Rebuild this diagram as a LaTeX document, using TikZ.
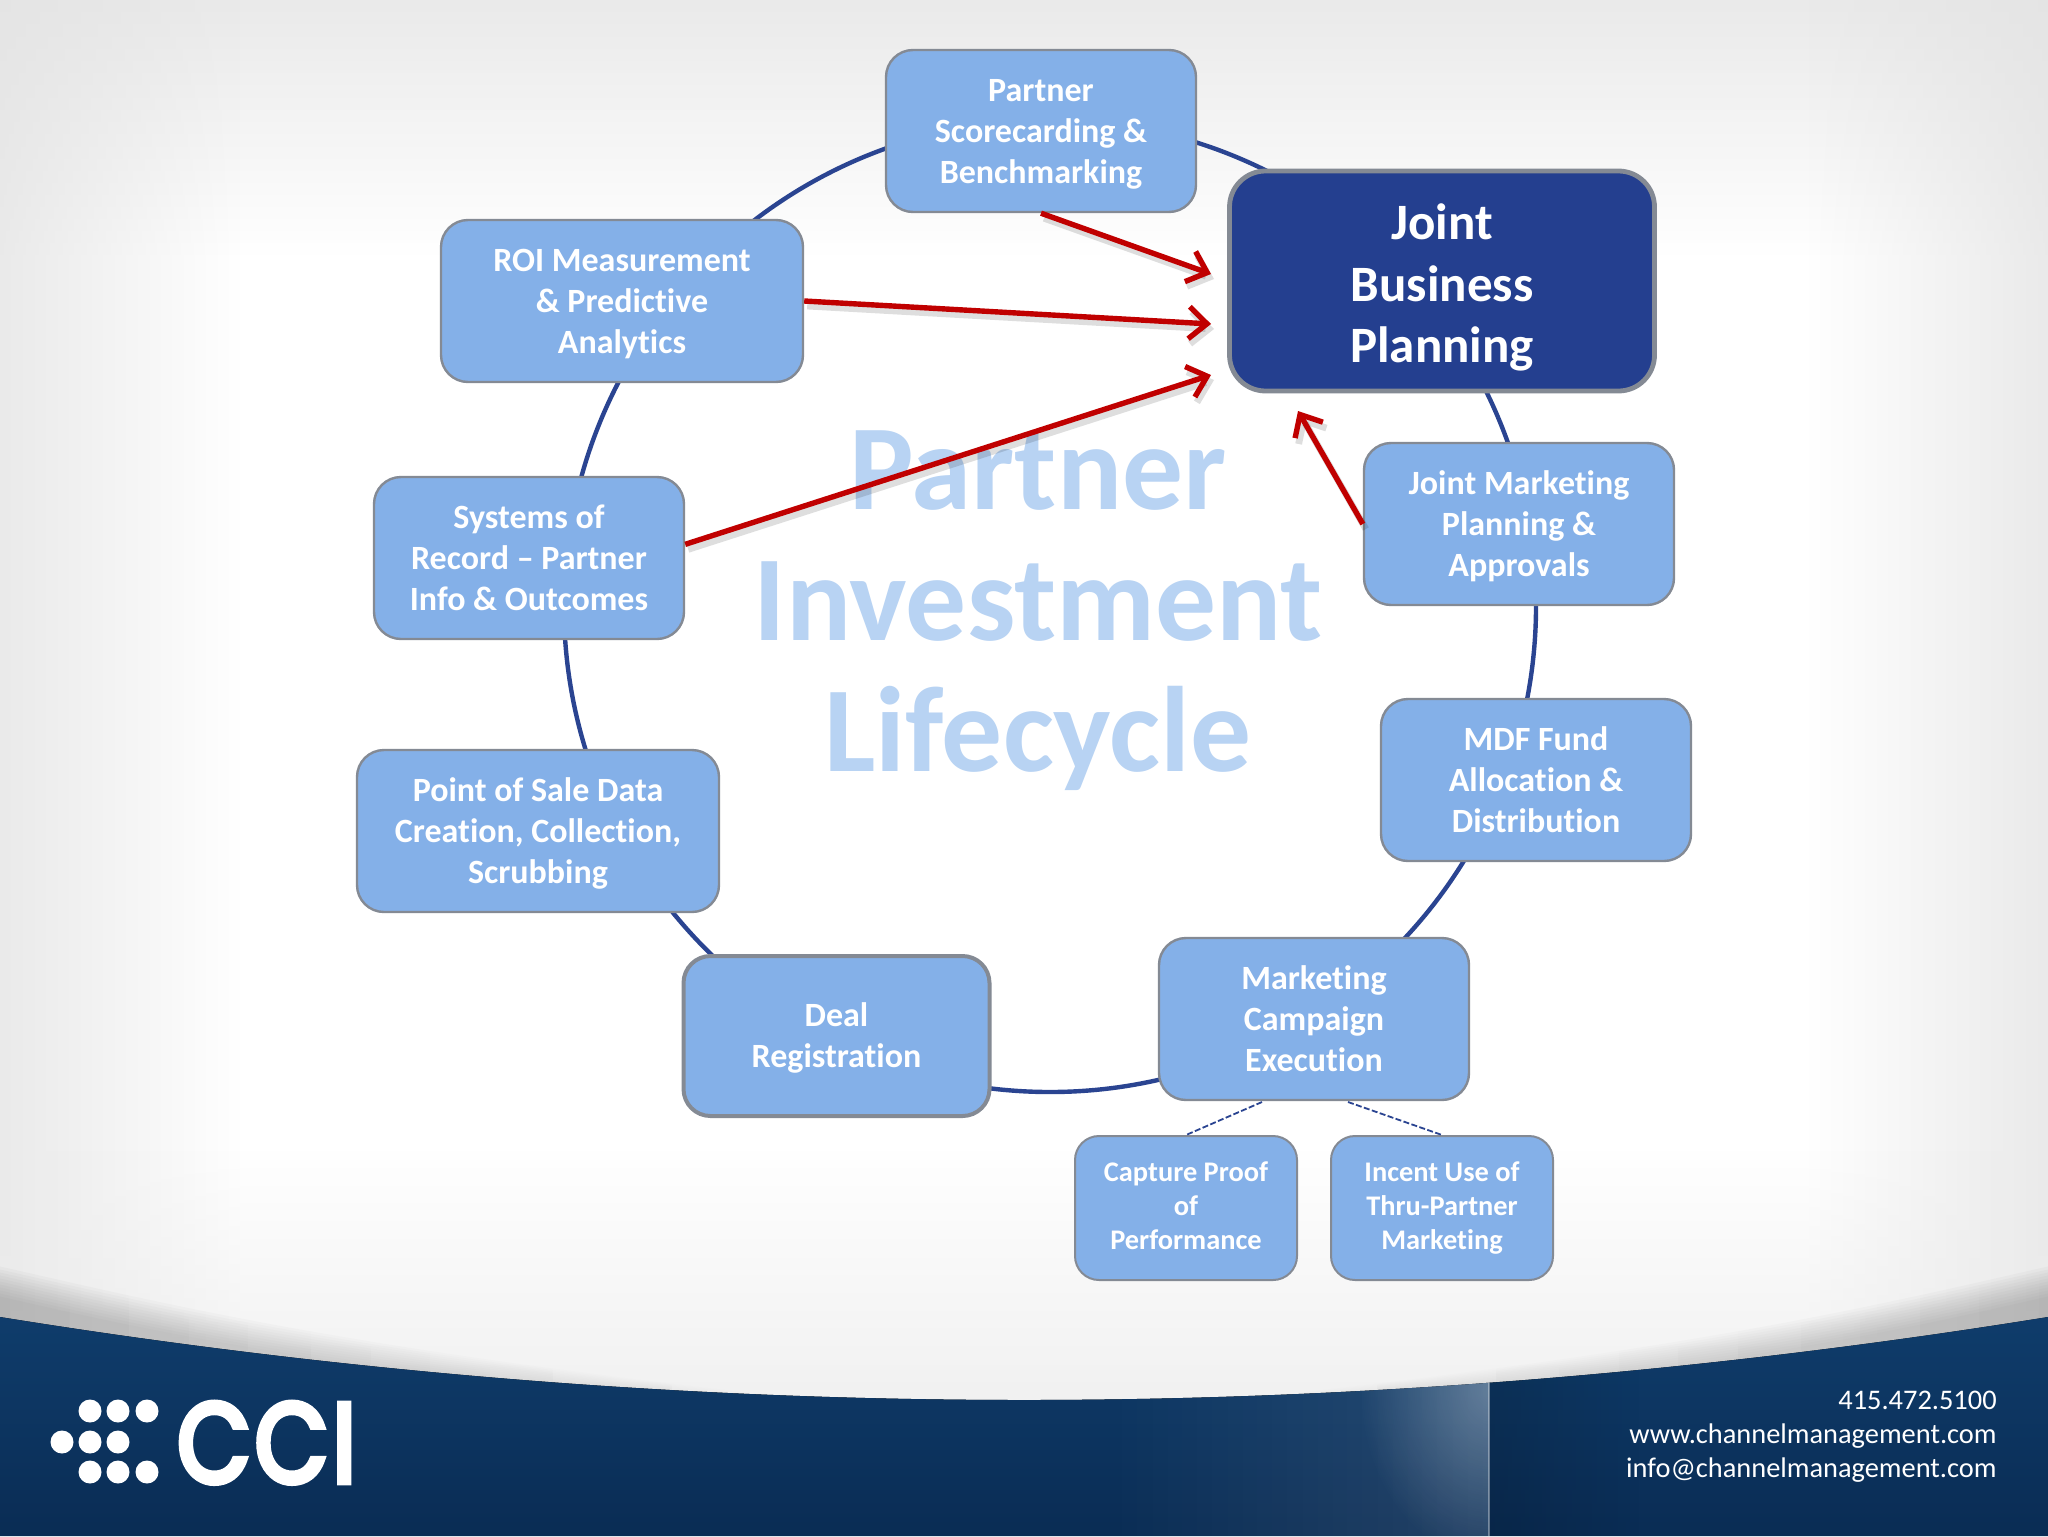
\documentclass[tikz,border=0pt]{standalone}
\usepackage{fontspec}
\usepackage{graphicx}
\setmainfont{Carlito}[Ligatures=CommonOff]
\newfontfamily\logofont{Poppins}[FakeBold=6,LetterSpace=5]
\usetikzlibrary{arrows.meta,fadings,calc}
\definecolor{boxfill}{HTML}{84B0E8}
\definecolor{boxline}{HTML}{848A94}
\definecolor{darkfill}{HTML}{243F8F}
\definecolor{ringblue}{HTML}{2A4491}
\definecolor{arrowred}{HTML}{C00000}
\definecolor{ghost}{HTML}{B8D3F3}
\definecolor{navytop}{HTML}{0F3D6C}
\definecolor{navybot}{HTML}{0A2C54}
\newcommand\stepstart{\rule{0pt}{17.6pt}}
\newcommand\smallstart{\rule{0pt}{15.1pt}}
\newcommand\hubstart{\rule{0pt}{29.5pt}}
\tikzfading[name=glowfade, inner color=transparent!72, outer color=transparent!100]
\tikzset{
  x=0.5pt, y=-0.5pt,
  stepbox/.style={draw=boxline, fill=boxfill, line width=1.2pt, rounded corners=13.5pt,
    minimum width=155pt, minimum height=81pt, inner sep=0pt, align=center, text=white,
    font=\fontsize{17}{20.5}\selectfont\bfseries,
    execute at end node=\strut},
  widebox/.style={stepbox, minimum width=181pt},
  smallbox/.style={stepbox, line width=1pt, rounded corners=12pt, minimum width=111pt, minimum height=72pt,
    font=\fontsize{14.2}{17}\selectfont\bfseries,
    execute at end node={\rule[-7.7pt]{0pt}{7.7pt}}},
  hubbox/.style={draw=boxline, fill=darkfill, line width=2.4pt, rounded corners=18pt,
    minimum width=212.5pt, minimum height=110pt, inner sep=0pt, align=center, text=white,
    font=\fontsize{25.5}{30.7}\selectfont\bfseries,
    execute at end node=\strut},
  feeder/.style={draw=arrowred, line width=2.7pt, -{Straight Barb[length=9pt,width=16pt,line width=2.7pt]}},
  feedshadow/.style={draw=black, opacity=.13, line width=3.4pt, -{Straight Barb[length=9pt,width=16pt,line width=3.4pt]},
    transform canvas={xshift=1.5pt,yshift=-2.5pt}},
  ring/.style={draw=ringblue, line width=2.2pt},
  sublink/.style={draw=ringblue, line width=.9pt, dash pattern=on 3pt off 1.2pt},
  logodot/.style={circle, fill=white, inner sep=0pt, minimum size=11.5pt},
  contact/.style={anchor=base east, text=white, inner sep=0pt, font=\fontsize{14.2}{17}\selectfont},
}
\begin{document}
\begin{tikzpicture}
\useasboundingbox (0,0) rectangle (2048,1536);
% background
\fill[white] (0,0) rectangle (2048,1536);
\begin{scope}
  \clip (0,0) rectangle (2048,1536);
  \fill[gray!22, path fading=south] (-100,-85) rectangle (2148,255);
  \fill[gray!22, path fading=east] (-80,-100) rectangle (240,1500);
  \fill[gray!22, path fading=west] (1808,-100) rectangle (2128,1500);
  \fill[gray!14, path fading=north] (-100,1150) rectangle (2148,1470);
  \foreach \d in {0,3,...,30}{
    \fill[gray, opacity=.055, path fading=east] (-20,1262+\d) .. controls (150,1300+\d) and (340,1350+\d) .. (820,1400) -- (-20,1400) -- cycle;
    \fill[gray, opacity=.055, path fading=west] (2068,1262+\d) .. controls (1898,1300+\d) and (1708,1350+\d) .. (1228,1400) -- (2068,1400) -- cycle;
  }
\end{scope}
% footer band
\begin{scope}
  \clip (0,1317) .. controls (341,1372) and (683,1400) .. (1024,1400)
        .. controls (1365,1400) and (1707,1372) .. (2048,1317) -- (2048,1536) -- (0,1536) -- cycle;
  \fill[top color=navytop, bottom color=navybot] (0,1310) rectangle (2048,1536);
  \fill[white, opacity=.10, path fading=west] (1100,1370) rectangle (1489,1536);
  \begin{scope}
    \clip (1100,1370) rectangle (1489,1536);
    \fill[white, path fading=glowfade] (1489,1390) ellipse (130 and 170);
  \end{scope}
  \fill[black, opacity=.14, path fading=east] (1489,1370) rectangle (1640,1536);
  \draw[white, opacity=.35, line width=.6pt] (1489,1370) -- (1489,1536);
\end{scope}
% logo
\foreach \n/\px/\py in {a/90/1411,b/118/1411,c/147/1411,d/62/1442,e/90/1442,f/118/1442,g/90/1472,h/118/1472,i/147/1472}
  \node[logodot] (dot\n) at (\px,\py) {};
\node[anchor=base west, inner sep=0pt, text=white, font=\logofont\fontsize{59}{59}\selectfont] (logo) at (177,1482) {\scalebox{.80}[.95]{CCI}};
% contact
\node[contact] (phone) at (1997,1409) {415.472.5100};
\node[contact] (web) at (1997,1443) {www.channelmanagement.com};
\node[contact] (mail) at (1997,1477) {info@channelmanagement.com};
% ring
\coordinate (ringc) at (1050,606);
\draw[ring] (ringc) circle (486);
% centre title
\node[align=center, inner sep=0pt, text=ghost, font=\fontsize{60.75}{65.5}\selectfont\bfseries] (title) at (1038,611) {Partner\\Investment\\Lifecycle};
% nodes
\node[stepbox] (score) at (1041,131) {\stepstart Partner\\Scorecarding \&\\Benchmarking};
\node[widebox] (roi) at (622,301) {\stepstart ROI Measurement\\\& Predictive\\Analytics};
\node[hubbox] (jbp) at (1442,281) {\hubstart Joint\\Business\\Planning};
\node[stepbox] (jmp) at (1519,524) {\stepstart Joint Marketing\\Planning \&\\Approvals};
\node[stepbox] (mdf) at (1536,780) {\stepstart MDF Fund\\Allocation \&\\Distribution};
\node[stepbox] (mce) at (1314,1019) {\stepstart Marketing\\Campaign\\Execution};
\node[stepbox, line width=2pt, minimum width=153pt, minimum height=80pt] (deal) at (836.5,1036) {\stepstart Deal\\Registration};
\node[widebox] (pos) at (538,831) {\stepstart Point of Sale Data\\Creation, Collection,\\Scrubbing};
\node[stepbox] (sys) at (529,558) {\stepstart Systems of\\Record -- Partner\\Info \& Outcomes};
\node[smallbox] (cap) at (1186,1208) {\smallstart Capture Proof\\of\\Performance};
\node[smallbox] (inc) at (1442,1208) {\smallstart Incent Use of\\Thru-Partner\\Marketing};
% connector ends
\coordinate (t1) at (1211,274);
\coordinate (t2) at (1211,324);
\coordinate (t3) at (1211,375);
\coordinate (t4) at (1298,411);
\coordinate (d1) at (1262,1102);
\coordinate (d2) at (1348,1102);
% arrows
\draw[feedshadow] (score.south) -- (t1);
\draw[feedshadow] (roi.east) -- (t2);
\draw[feedshadow] (sys.5) -- (t3);
\draw[feedshadow] (jmp.west) -- (t4);
\draw[feeder] (score.south) -- (t1);
\draw[feeder] (roi.east) -- (t2);
\draw[feeder] (sys.5) -- (t3);
\draw[feeder] (jmp.west) -- (t4);
% dashed sub-links
\draw[sublink] (d1) -- (cap.north);
\draw[sublink] (d2) -- (inc.north);
\end{tikzpicture}
\end{document}
